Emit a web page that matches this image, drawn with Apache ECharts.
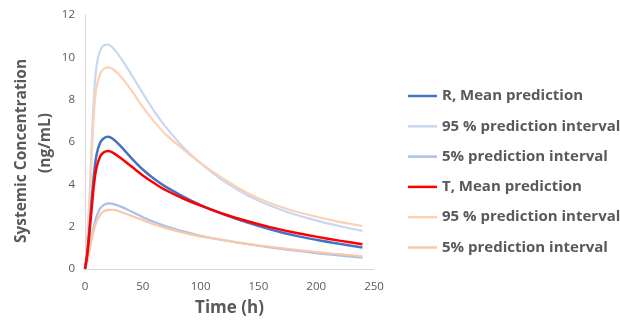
<!DOCTYPE html>
<html><head><meta charset="utf-8">
<script src="https://cdn.jsdelivr.net/npm/echarts@6/dist/echarts.min.js"></script>
<style>html,body{margin:0;padding:0;background:#fff}#c{width:620px;height:322px}</style>
</head><body><div id="c"></div>
<script>
const times   = [0, 2, 4, 6, 8, 10, 13, 16, 20, 24, 30, 40, 50, 60, 70, 85, 100, 120, 140, 160, 180, 200, 220, 240];
const rMean   = [0, 0.8, 2.0, 3.4, 4.6, 5.4, 5.95, 6.17, 6.25, 6.15, 5.85, 5.25, 4.7, 4.25, 3.88, 3.42, 3.02, 2.58, 2.2, 1.88, 1.6, 1.38, 1.19, 1.02];
const r95     = [0, 1.5, 3.5, 6.2, 8.4, 9.6, 10.3, 10.55, 10.6, 10.45, 10.05, 9.2, 8.3, 7.45, 6.7, 5.75, 5.0, 4.15, 3.5, 3.0, 2.6, 2.3, 2.03, 1.8];
const r5      = [0, 0.4, 1.0, 1.6, 2.1, 2.5, 2.85, 3.02, 3.1, 3.08, 2.97, 2.72, 2.45, 2.22, 2.02, 1.78, 1.57, 1.36, 1.18, 1.02, 0.88, 0.75, 0.64, 0.54];
const tMean   = [0, 0.7, 1.8, 3.0, 4.1, 4.8, 5.3, 5.5, 5.57, 5.5, 5.28, 4.85, 4.42, 4.05, 3.72, 3.33, 3.0, 2.6, 2.27, 1.98, 1.74, 1.53, 1.34, 1.17];
const t95     = [0, 1.3, 3.2, 5.6, 7.6, 8.6, 9.2, 9.45, 9.53, 9.45, 9.15, 8.45, 7.65, 6.95, 6.35, 5.65, 5.0, 4.25, 3.6, 3.12, 2.75, 2.47, 2.23, 2.03];
const t5      = [0, 0.35, 0.9, 1.45, 1.9, 2.25, 2.55, 2.72, 2.79, 2.8, 2.72, 2.52, 2.3, 2.1, 1.93, 1.72, 1.54, 1.36, 1.19, 1.05, 0.92, 0.8, 0.7, 0.6];
const seriesNames = ['R, Mean prediction', '95 % prediction interval', '5% prediction interval', 'T, Mean prediction', '95 % prediction interval ', '5% prediction interval '];
const xTitle = 'Time (h)';
const yTitle1 = 'Systemic Concentration';
const yTitle2 = '(ng/mL)';

const allData = [rMean, r95, r5, tMean, t95, t5];
const colors = ['#4472C4', '#C9D8F1', '#A8C1EA', '#FF0000', '#FAD2B5', '#F8C8A8'];
const widths = [2.5, 2.2, 2.2, 2.5, 2.2, 2.2];
const zs = [5, 2, 2, 6, 3, 3];

const chart = echarts.init(document.getElementById('c'));
const font = 'Open Sans';
chart.setOption({
  animation: false,
  grid: {left: 85, right: 246, top: 15, bottom: 53, outerBoundsMode: 'none', containLabel: false},
  legend: {
    orient: 'vertical', left: 408, top: 88, padding: 0,
    icon: 'rect', itemWidth: 29, itemHeight: 2.5, itemGap: 14.3,
    textStyle: {color: '#595959', fontWeight: 'bold', fontSize: 15, fontFamily: font, lineHeight: 16},
    data: seriesNames
  },
  graphic: [
    {type: 'text', x: 22, y: 151, rotation: Math.PI / 2,
     style: {text: yTitle1, fill: '#595959', font: 'bold 15.5px "Open Sans"', align: 'center', verticalAlign: 'middle'}},
    {type: 'text', x: 46, y: 143, rotation: Math.PI / 2,
     style: {text: yTitle2, fill: '#595959', font: 'bold 15.5px "Open Sans"', align: 'center', verticalAlign: 'middle'}}
  ],
  xAxis: {
    type: 'value', min: 0, max: 250, interval: 50,
    name: xTitle, nameLocation: 'middle', nameGap: 31,
    nameTextStyle: {color: '#595959', fontWeight: 'bold', fontSize: 17, fontFamily: font},
    axisLine: {show: true, lineStyle: {color: '#D9D9D9', width: 1}},
    axisTick: {show: false}, splitLine: {show: false},
    axisLabel: {color: '#595959', fontSize: 11.5, fontFamily: font, margin: 12}
  },
  yAxis: {
    type: 'value', min: 0, max: 12, interval: 2,
    axisLine: {show: true, lineStyle: {color: '#D9D9D9', width: 1}},
    axisTick: {show: false}, splitLine: {show: false},
    axisLabel: {color: '#595959', fontSize: 11.5, fontFamily: font, margin: 10}
  },
  series: allData.map((vals, i) => ({
    name: seriesNames[i],
    type: 'line',
    data: times.map((t, j) => [t, vals[j]]),
    smooth: 0.35,
    symbol: 'none', z: zs[i],
    lineStyle: {color: colors[i], width: widths[i]},
    itemStyle: {color: colors[i]}
  }))
});
</script></body></html>
